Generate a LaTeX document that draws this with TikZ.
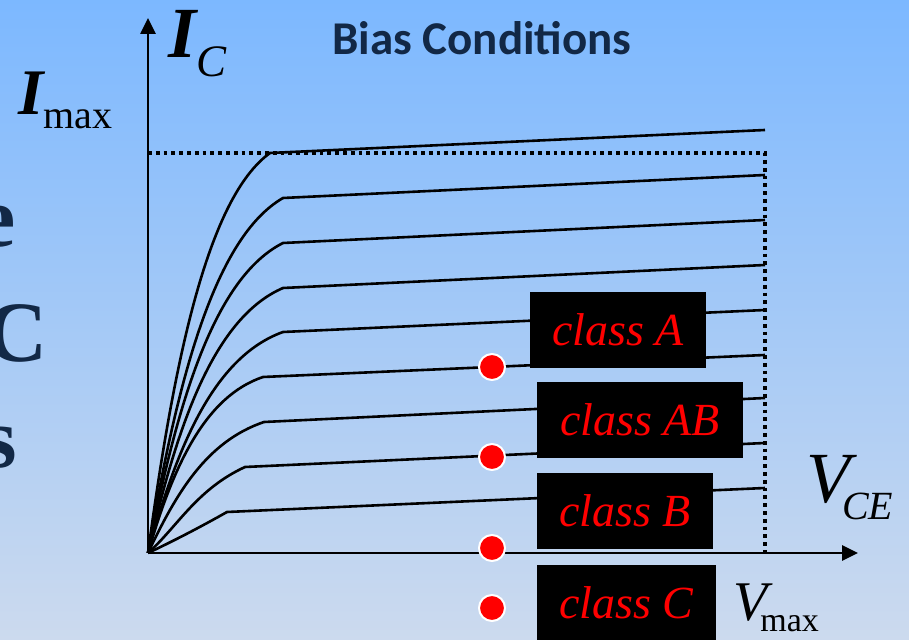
\documentclass[tikz,border=0pt]{standalone}
\usepackage{fontspec}
\setmainfont{Liberation Serif}
\newfontfamily\titlefont{Carlito}
\newfontfamily\slidefont{Liberation Serif Bold}
\usepackage{xcolor}
\usetikzlibrary{arrows.meta,positioning}
\definecolor{skytop}{RGB}{124,184,255}
\definecolor{skybottom}{RGB}{204,218,238}
\definecolor{navy}{RGB}{18,40,70}

\begin{document}
\begin{tikzpicture}[
    x=1pt, y=1pt,
    axisline/.style={line width=2.6pt, -{Triangle[length=16pt,width=15pt]}},
    icurve/.style={line width=2.6pt, line join=miter},
    limit/.style={line width=3.4pt, dash pattern=on 3.8pt off 4pt},
    classbox/.style={fill=black, minimum height=76pt, inner sep=0pt, text=red, font=\fontsize{46}{46}\selectfont\itshape},
    qpoint/.style={circle, fill=red, draw=white, line width=2pt, minimum size=26pt, inner sep=0pt},
    axislabel/.style={inner sep=0pt, anchor=base west},
    slidetext/.style={inner sep=0pt, anchor=base east, text=navy, font=\slidefont\fontsize{86}{86}\selectfont}
  ]
    \useasboundingbox (0,0) rectangle (909,639);
    \shade[top color=skytop, bottom color=skybottom] (0,0) rectangle (909,639);
    \clip (0,0) rectangle (909,639);

    \node[slidetext] (fragE) at (16,392) {e};
    \node[slidetext] (fragC) at (48,277) {C};
    \node[slidetext] (fragS) at (17,171) {s};

    \coordinate (O) at (148,86);
    \coordinate (ytip) at (148,621);
    \coordinate (xtip) at (858,86);
    \coordinate (imax) at (148,486);
    \coordinate (vmax) at (765,86);

    % knee x / knee y / end y at V_max / control fractions
    \foreach \kx/\ky/\ey/\ca/\cb/\cc/\cd in {
        270/486/509/0.22/0.5/0.5/0.89, 283/441/464/0.22/0.5/0.5/0.89, 283/396/419/0.22/0.5/0.5/0.89,
        283/351/374/0.22/0.5/0.5/0.89, 283/307/329/0.22/0.5/0.5/0.89, 263/262/284/0.22/0.5/0.5/0.89,
        264/217/241/0.24/0.45/0.5/0.85, 245/172/196/0.3/0.3/0.5/0.74, 227/127/151/0.33/0.3/0.67/0.64}
      \draw[icurve] (O) .. controls ({148+\ca*(\kx-148)},{86+\cb*(\ky-86)})
                    and ({148+\cc*(\kx-148)},{86+\cd*(\ky-86)}) .. (\kx,\ky) -- (765,\ey);

    \draw[limit] (imax) -| (vmax);
    \draw[axisline] (O) -- (ytip);
    \draw[axisline] (O) -- (xtip);

    \node[axislabel] (ic) at (168,581) {\fontsize{72}{72}\selectfont\bfseries\itshape I\raisebox{-19pt}{\fontsize{45}{45}\selectfont\mdseries C}};
    \node[axislabel] (imaxlabel) at (18,524) {\fontsize{65}{65}\selectfont\bfseries\itshape I\raisebox{-14pt}{\fontsize{40}{40}\selectfont\mdseries\upshape max}};
    \node[axislabel] (vce) at (806,136) {\fontsize{72}{72}\selectfont\itshape V\kern-8pt\raisebox{-17pt}{\fontsize{40}{40}\selectfont CE}};
    \node[axislabel] (vmaxlabel) at (733,19) {\fontsize{56}{56}\selectfont\itshape V\kern-7pt\raisebox{-12pt}{\fontsize{34}{34}\selectfont\upshape max}};
    \node[axislabel, text=navy, font=\fontsize{47}{47}\selectfont\titlefont\bfseries] (title) at (332,584) {Bias Conditions};

    \node[classbox, minimum width=176pt] (classA) at (618,309) {class A};
    \node[classbox, minimum width=206pt] (classAB) at (640,219) {class AB};
    \node[classbox, minimum width=176pt] (classB) at (625,128) {class B};
    \node[classbox, minimum width=179pt] (classC) at (626.5,36) {class C};

    \node[qpoint] (ptA) at (492,272) {};
    \node[qpoint] (ptAB) at (492,182) {};
    \node[qpoint] (ptB) at (492,91) {};
    \node[qpoint] (ptC) at (492,31) {};
  \end{tikzpicture}
\end{document}
